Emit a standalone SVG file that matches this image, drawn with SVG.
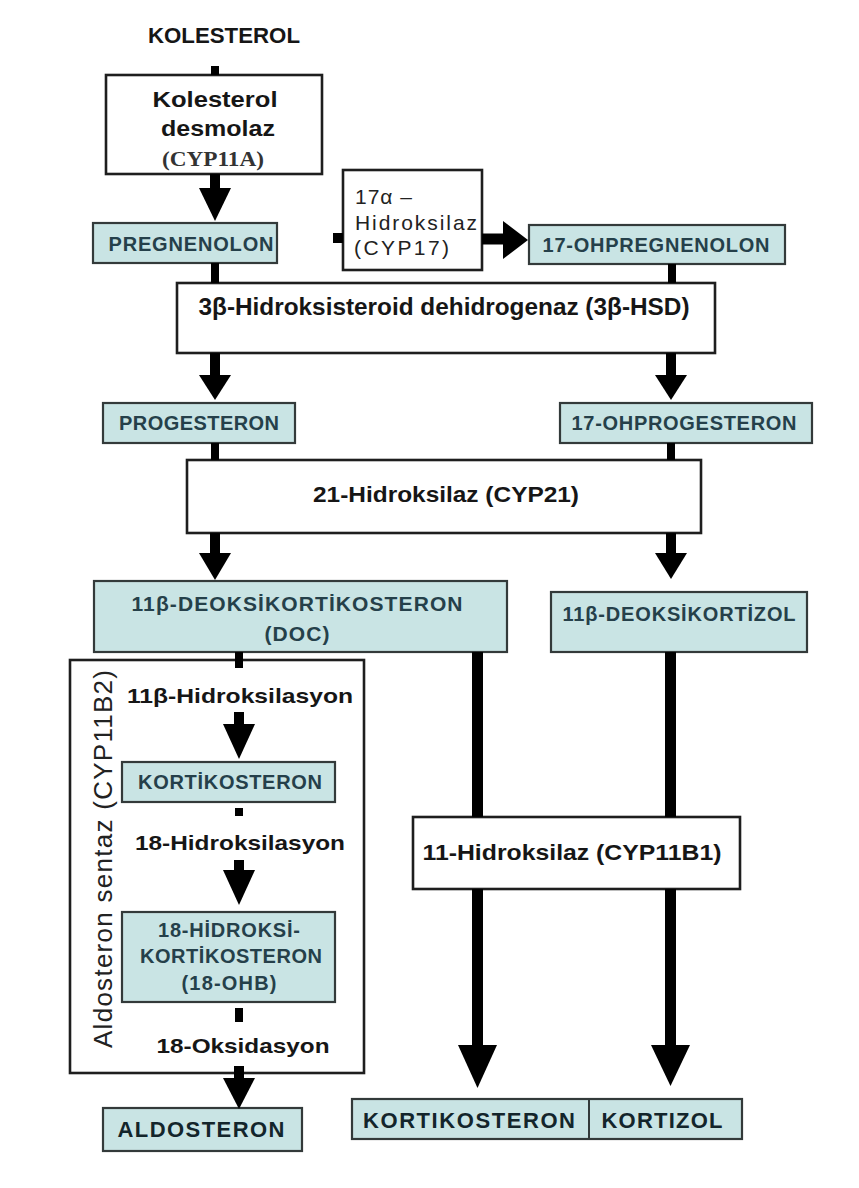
<svg xmlns="http://www.w3.org/2000/svg" width="859" height="1188" viewBox="0 0 859 1188">
<style>
.bg{fill:#ffffff}
.box{fill:#ffffff;stroke:#1e1e1e;stroke-width:2.6}
.blue{fill:#c9e4e4;stroke:#333a3a;stroke-width:2.2}
.t{font-family:"Liberation Sans",Arial,sans-serif;font-weight:bold;fill:#161616;text-anchor:middle}
.tb{font-family:"Liberation Sans",Arial,sans-serif;font-weight:bold;fill:#25404a;text-anchor:middle}
.td{font-family:"Liberation Sans",Arial,sans-serif;font-weight:bold;fill:#13252b;text-anchor:middle}
.tn{font-family:"Liberation Sans",Arial,sans-serif;fill:#222;}
.ts{font-family:"Liberation Serif","Times New Roman",serif;font-weight:bold;fill:#333;text-anchor:middle}
.sh{stroke:#000;fill:none}
.hd{fill:#000}
</style>
<rect class="bg" x="0" y="0" width="859" height="1188"/>

<g id="kolesterol">
<text class="t" x="224" y="43" font-size="22" textLength="152" lengthAdjust="spacingAndGlyphs">KOLESTEROL</text>
</g>

<g id="desmolaz">
<rect class="box" x="106" y="75" width="216" height="99"/>
<text class="t" x="215" y="107" font-size="22" textLength="125" lengthAdjust="spacingAndGlyphs" fill="#2a2a2a">Kolesterol</text>
<text class="t" x="218" y="136" font-size="22" textLength="114" lengthAdjust="spacingAndGlyphs" fill="#2a2a2a">desmolaz</text>
<text class="ts" x="213" y="166" font-size="20" textLength="102" lengthAdjust="spacingAndGlyphs">(CYP11A)</text>
</g>

<g id="pregnenolon">
<rect class="blue" x="93" y="223" width="184" height="40"/>
<text class="tb" x="191" y="251" font-size="20" textLength="165">PREGNENOLON</text>
</g>

<g id="hidroksilaz17">
<rect class="box" x="343" y="170" width="139" height="100"/>
<text class="tn" x="355" y="204" font-size="21" textLength="57">17α –</text>
<text class="tn" x="355" y="230" font-size="21" textLength="122">Hidroksilaz</text>
<text class="tn" x="354" y="255" font-size="21" textLength="95">(CYP17)</text>
</g>

<g id="ohpregnenolon">
<rect class="blue" x="529" y="225" width="256" height="39"/>
<text class="tb" x="656" y="252" font-size="20" textLength="227">17-OHPREGNENOLON</text>
</g>

<g id="hsd3b">
<rect class="box" x="177" y="283" width="538" height="70"/>
<text class="t" x="444" y="315" font-size="23" textLength="491" lengthAdjust="spacingAndGlyphs">3β-Hidroksisteroid dehidrogenaz (3β-HSD)</text>
</g>

<g id="progesteron">
<rect class="blue" x="103" y="403" width="192" height="40"/>
<text class="tb" x="199" y="430" font-size="20" textLength="160">PROGESTERON</text>
</g>

<g id="ohprogesteron">
<rect class="blue" x="560" y="403" width="252" height="40"/>
<text class="tb" x="684" y="430" font-size="20" textLength="225">17-OHPROGESTERON</text>
</g>

<g id="cyp21">
<rect class="box" x="187" y="460" width="514" height="73"/>
<text class="t" x="446" y="502" font-size="22" textLength="266" lengthAdjust="spacingAndGlyphs">21-Hidroksilaz (CYP21)</text>
</g>

<g id="doc">
<rect class="blue" x="94" y="581" width="413" height="71"/>
<text class="tb" x="297" y="611" font-size="21" textLength="331">11β-DEOKSİKORTİKOSTERON</text>
<text class="tb" x="297" y="641" font-size="21" textLength="65">(DOC)</text>
</g>

<g id="deoksikortizol">
<rect class="blue" x="551" y="592" width="256" height="60"/>
<text class="tb" x="679" y="621" font-size="20" textLength="233">11β-DEOKSİKORTİZOL</text>
</g>

<g id="aldosteronsentaz">
<rect class="box" x="70" y="660" width="294" height="413" fill="none"/>
<text class="tn" x="0" y="0" font-size="26" text-anchor="middle" textLength="378" transform="translate(112 859) rotate(-90)">Aldosteron sentaz (CYP11B2)</text>
<text class="t" x="240" y="703" font-size="21" textLength="226" lengthAdjust="spacingAndGlyphs">11β-Hidroksilasyon</text>
<text class="t" x="240" y="850" font-size="21" textLength="210" lengthAdjust="spacingAndGlyphs">18-Hidroksilasyon</text>
<text class="t" x="243" y="1053" font-size="21" textLength="173" lengthAdjust="spacingAndGlyphs">18-Oksidasyon</text>
</g>

<g id="kortikosteron1">
<rect class="blue" x="122" y="762" width="213" height="40"/>
<text class="tb" x="230" y="789" font-size="20" textLength="184">KORTİKOSTERON</text>
</g>

<g id="hidroksikortikosteron">
<rect class="blue" x="122" y="912" width="213" height="90"/>
<text class="tb" x="229" y="937" font-size="20" textLength="142">18-HİDROKSİ-</text>
<text class="tb" x="231" y="963" font-size="20" textLength="182">KORTİKOSTERON</text>
<text class="tb" x="229" y="990" font-size="20" textLength="95">(18-OHB)</text>
</g>

<g id="aldosteron">
<rect class="blue" x="103" y="1108" width="199" height="43"/>
<text class="td" x="201" y="1137" font-size="22" textLength="167">ALDOSTERON</text>
</g>

<g id="cyp11b1">
<rect class="box" x="413" y="817" width="327" height="72"/>
<text class="t" x="572" y="860" font-size="22" textLength="299" lengthAdjust="spacingAndGlyphs">11-Hidroksilaz (CYP11B1)</text>
</g>

<g id="kortikosteron-kortizol">
<rect class="blue" x="352" y="1099" width="390" height="40"/>
<line x1="589" y1="1099" x2="589" y2="1139" stroke="#333a3a" stroke-width="2"/>
<text class="td" x="469" y="1128" font-size="22" textLength="212">KORTIKOSTERON</text>
<text class="td" x="662" y="1128" font-size="22" textLength="121">KORTIZOL</text>
</g>

<g id="connectors">
<line class="sh" x1="215" y1="66" x2="215" y2="75" stroke-width="8"/>
<line class="sh" x1="215" y1="174" x2="215" y2="190" stroke-width="10"/>
<polygon class="hd" points="199,188 231,188 215,221"/>
<line class="sh" x1="215" y1="263" x2="215" y2="283" stroke-width="8"/>
<line class="sh" x1="333" y1="238" x2="343" y2="238" stroke-width="10"/>
<line class="sh" x1="482" y1="239" x2="505" y2="239" stroke-width="11"/>
<polygon class="hd" points="503,221 503,259 528,240"/>
<line class="sh" x1="672" y1="264" x2="672" y2="283" stroke-width="8"/>
<line class="sh" x1="215" y1="353" x2="215" y2="377" stroke-width="10"/>
<polygon class="hd" points="199,375 231,375 215,400"/>
<line class="sh" x1="671" y1="353" x2="671" y2="377" stroke-width="10"/>
<polygon class="hd" points="655,375 687,375 671,400"/>
<line class="sh" x1="215" y1="443" x2="215" y2="460" stroke-width="8"/>
<line class="sh" x1="671" y1="443" x2="671" y2="460" stroke-width="8"/>
<line class="sh" x1="215" y1="533" x2="215" y2="555" stroke-width="10"/>
<polygon class="hd" points="199,553 231,553 215,580"/>
<line class="sh" x1="671" y1="533" x2="671" y2="555" stroke-width="10"/>
<polygon class="hd" points="655,553 687,553 671,579"/>
<line class="sh" x1="477.5" y1="652" x2="477.5" y2="817" stroke-width="11"/>
<line class="sh" x1="670.5" y1="652" x2="670.5" y2="817" stroke-width="11"/>
<line class="sh" x1="477.5" y1="889" x2="477.5" y2="1047" stroke-width="11"/>
<polygon class="hd" points="458,1045 497,1045 477.5,1088"/>
<line class="sh" x1="670.5" y1="889" x2="670.5" y2="1047" stroke-width="11"/>
<polygon class="hd" points="651,1045 690,1045 670.5,1086"/>
<line class="sh" x1="239" y1="652" x2="239" y2="668" stroke-width="8"/>
<line class="sh" x1="239" y1="712" x2="239" y2="726" stroke-width="10"/>
<polygon class="hd" points="223,724 255,724 239,759"/>
<line class="sh" x1="239" y1="808" x2="239" y2="816" stroke-width="8"/>
<line class="sh" x1="239" y1="860" x2="239" y2="872" stroke-width="10"/>
<polygon class="hd" points="223,870 255,870 239,905"/>
<line class="sh" x1="239" y1="1008" x2="239" y2="1022" stroke-width="8"/>
<line class="sh" x1="239" y1="1066" x2="239" y2="1080" stroke-width="10"/>
<polygon class="hd" points="223,1078 255,1078 239,1109"/>
</g>
</svg>
